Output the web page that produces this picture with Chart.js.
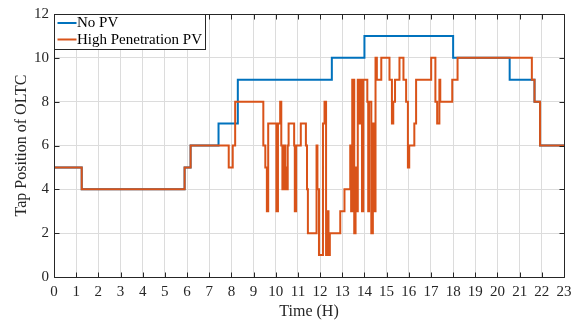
<!DOCTYPE html>
<html>
<head>
<meta charset="utf-8">
<style>
  html, body { margin: 0; padding: 0; background: #ffffff; }
  #wrap { width: 587px; height: 322px; }
</style>
<script src="https://cdn.jsdelivr.net/npm/chart.js@4.4.1/dist/chart.umd.min.js"></script>
</head>
<body>
<div id="wrap"><canvas id="chart" width="587" height="322"></canvas></div>
<script>
// Axis ticks
const hourTicks = [0,1,2,3,4,5,6,7,8,9,10,11,12,13,14,15,16,17,18,19,20,21,22,23];
const tapTicks = [0,2,4,6,8,10,12];

// OLTC tap position without PV: hour at which each tap level starts
const noPvHours = [0, 1.25, 5.89, 6.16, 7.42, 8.29, 12.53, 14.0, 18.0, 20.55, 21.67, 21.92, 23];
const noPvTaps  = [5, 4,    5,    6,    7,    9,    10,    11,   10,   9,     8,     6,     6];

// OLTC tap position with high PV penetration: hour at which each tap level starts
const pvHours = [
  0, 1.25, 5.89, 6.16, 7.88, 8.06, 8.17,
  9.44, 9.53, 9.6, 9.66, 10.03, 10.1, 10.2, 10.25, 10.3, 10.33, 10.36, 10.4, 10.43, 10.47, 10.5, 10.54, 10.58,
  10.83, 10.86, 10.92, 11.13, 11.36, 11.41, 11.45, 11.84, 11.88, 11.95,
  12.13, 12.2, 12.27, 12.34, 12.38, 12.44, 12.91, 13.1,
  13.36, 13.4, 13.45, 13.54, 13.6, 13.65, 13.7, 13.78, 13.81, 13.89, 13.95,
  14.13, 14.17, 14.21, 14.31, 14.38, 14.42, 14.5, 14.56, 14.76,
  15.13, 15.24, 15.3, 15.38, 15.58, 15.76, 15.88, 15.96, 16.02, 16.25, 16.33,
  17.01, 17.2, 17.28, 17.38, 17.42, 17.96, 18.2,
  21.55, 21.67, 21.92, 23
];
const pvTaps = [
  5, 4, 5, 6, 5, 6, 8,
  6, 5, 3, 7, 3, 7, 8, 6, 4, 6, 4, 6, 4, 5, 4, 6, 7,
  6, 3, 6, 7, 6, 4, 2, 6, 4, 1,
  7, 8, 1, 3, 1, 2, 3, 4,
  6, 3, 9, 2, 5, 3, 9, 7, 9, 3, 9,
  8, 3, 8, 2, 7, 3, 10, 9, 10,
  9, 7, 8, 9, 10, 9, 8, 5, 6, 7, 9,
  10, 8, 7, 9, 8, 9, 10,
  9, 8, 6, 6
];

const seriesLabels = ['No PV', 'High Penetration PV'];
const seriesColors = ['#0072BD', '#D95319'];

const toPoints = (xs, ys) => xs.map((x, i) => ({ x: x, y: ys[i] }));

const FONT = "'Liberation Serif', 'Times New Roman', serif";
const INK = '#262626';

// Box around the axes with inward tick marks on all four sides
const framePlugin = {
  id: 'frame',
  afterDatasetsDraw(chart) {
    const { ctx, chartArea: a, scales: { x, y } } = chart;
    const L = Math.round(a.left) + 0.5, R = Math.round(a.right) + 0.5;
    const T = Math.round(a.top) + 0.5, B = Math.round(a.bottom) + 0.5;
    const len = 5;
    ctx.save();
    ctx.strokeStyle = INK;
    ctx.lineWidth = 1;
    ctx.beginPath();
    ctx.rect(L, T, R - L, B - T);
    hourTicks.forEach(h => {
      const px = Math.round(x.getPixelForValue(h)) + 0.5;
      ctx.moveTo(px, B); ctx.lineTo(px, B - len);
      ctx.moveTo(px, T); ctx.lineTo(px, T + len);
    });
    tapTicks.forEach(v => {
      const py = Math.round(y.getPixelForValue(v)) + 0.5;
      ctx.moveTo(L, py); ctx.lineTo(L + len, py);
      ctx.moveTo(R, py); ctx.lineTo(R - len, py);
    });
    ctx.stroke();
    ctx.restore();
  }
};

// Boxed legend in the upper-left corner of the axes
const boxLegendPlugin = {
  id: 'boxLegend',
  afterDraw(chart) {
    const { ctx, chartArea: a } = chart;
    const left = Math.round(a.left) + 0.5, top = Math.round(a.top) + 0.5;
    const w = 151, h = 35;
    ctx.save();
    ctx.fillStyle = '#ffffff';
    ctx.fillRect(left, top, w, h);
    ctx.strokeStyle = INK;
    ctx.lineWidth = 1;
    ctx.strokeRect(left, top, w, h);
    ctx.font = '15px ' + FONT;
    ctx.textBaseline = 'middle';
    ctx.textAlign = 'left';
    chart.data.datasets.forEach((ds, i) => {
      const cy = top + 8.5 + i * 16.5;
      ctx.strokeStyle = ds.borderColor;
      ctx.lineWidth = 2;
      ctx.beginPath();
      ctx.moveTo(left + 3, cy);
      ctx.lineTo(left + 22, cy);
      ctx.stroke();
      ctx.fillStyle = '#000000';
      ctx.fillText(ds.label, left + 22.5, cy + 0.5);
    });
    ctx.restore();
  }
};

new Chart(document.getElementById('chart'), {
  type: 'line',
  data: {
    datasets: [
      {
        label: seriesLabels[0],
        data: toPoints(noPvHours, noPvTaps),
        borderColor: seriesColors[0],
        backgroundColor: seriesColors[0],
        borderWidth: 2,
        stepped: true,
        pointRadius: 0,
        fill: false,
        order: 1
      },
      {
        label: seriesLabels[1],
        data: toPoints(pvHours, pvTaps),
        borderColor: seriesColors[1],
        backgroundColor: seriesColors[1],
        borderWidth: 2,
        stepped: true,
        pointRadius: 0,
        fill: false,
        order: 0
      }
    ]
  },
  options: {
    responsive: false,
    animation: false,
    devicePixelRatio: 1,
    layout: { padding: { top: 10, right: 23, left: 0, bottom: 0 } },
    plugins: {
      legend: { display: false },
      tooltip: { enabled: false }
    },
    scales: {
      x: {
        type: 'linear',
        min: 0,
        max: 23,
        afterBuildTicks(scale) { scale.ticks = hourTicks.map(v => ({ value: v })); },
        afterFit(scale) { scale.height = 45; },
        grid: { color: '#dcdcdc', lineWidth: 1, drawTicks: false },
        border: { display: false },
        ticks: {
          autoSkip: false,
          maxRotation: 0,
          padding: 6,
          color: INK,
          font: { family: FONT, size: 15 }
        },
        title: {
          display: true,
          text: 'Time (H)',
          color: INK,
          font: { family: FONT, size: 16 },
          padding: { top: 0, bottom: 1 }
        }
      },
      y: {
        type: 'linear',
        min: 0,
        max: 12,
        afterBuildTicks(scale) { scale.ticks = tapTicks.map(v => ({ value: v })); },
        afterFit(scale) { scale.width = 54; },
        grid: { color: '#dcdcdc', lineWidth: 1, drawTicks: false },
        border: { display: false },
        ticks: {
          padding: 5,
          color: INK,
          font: { family: FONT, size: 15 }
        },
        title: {
          display: true,
          text: 'Tap Position of OLTC',
          color: INK,
          font: { family: FONT, size: 16 },
          padding: { top: 12, bottom: 0 }
        }
      }
    }
  },
  plugins: [framePlugin, boxLegendPlugin]
});
</script>
</body>
</html>
